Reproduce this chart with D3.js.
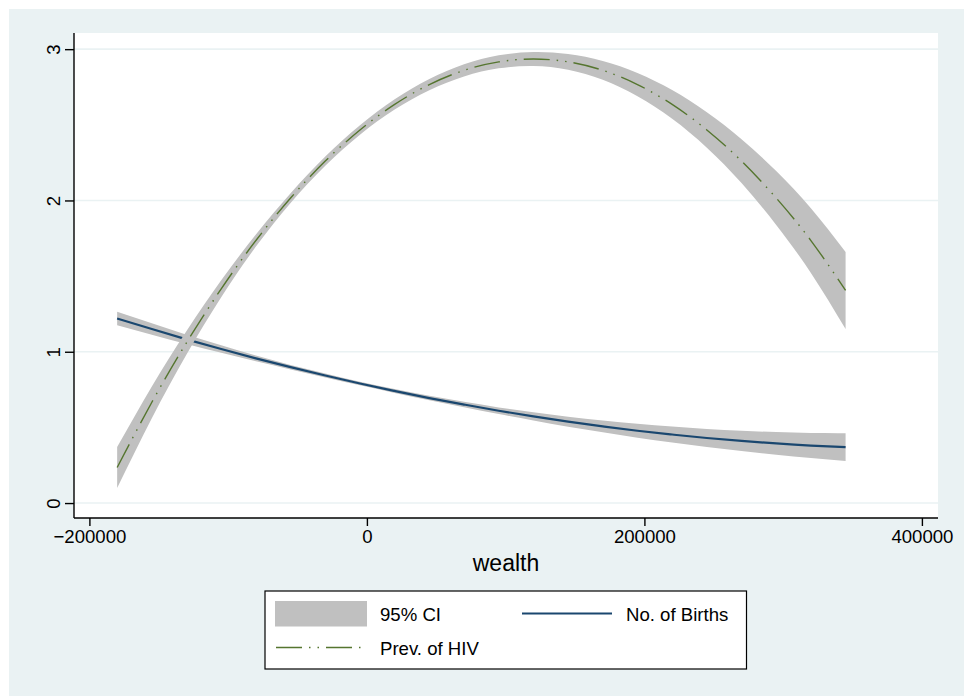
<!DOCTYPE html>
<html>
<head>
<meta charset="utf-8">
<script src="https://cdn.jsdelivr.net/npm/d3@7"></script>
<style>
  html, body { margin: 0; padding: 0; background: #ffffff; }
  svg { display: block; font-family: "Liberation Sans", Arial, Helvetica, sans-serif; }
</style>
</head>
<body>
<svg id="chart" width="964" height="696"></svg>
<script>
// Fitted values and 95% confidence bounds over household wealth
const wealth = [-180000, -155000, -130000, -105000, -80000, -55000, -30000, -5000,
  20000, 45000, 70000, 95000, 120000, 145000, 170000, 195000, 220000, 245000,
  270000, 295000, 320000, 345000];

const birthsFit = [1.220, 1.150, 1.082, 1.018, 0.956, 0.898, 0.843, 0.790, 0.741, 0.694,
  0.651, 0.610, 0.573, 0.538, 0.507, 0.478, 0.453, 0.430, 0.411, 0.394, 0.380, 0.370];
const birthsLo = [1.175, 1.112, 1.051, 0.993, 0.937, 0.883, 0.830, 0.778, 0.728, 0.679,
  0.633, 0.588, 0.546, 0.505, 0.468, 0.432, 0.400, 0.370, 0.344, 0.319, 0.297, 0.278];
const birthsHi = [1.265, 1.188, 1.113, 1.043, 0.975, 0.913, 0.856, 0.802, 0.754, 0.709,
  0.669, 0.632, 0.600, 0.571, 0.546, 0.524, 0.506, 0.490, 0.478, 0.469, 0.463, 0.462];

const hivFit = [0.235, 0.666, 1.060, 1.416, 1.735, 2.016, 2.260, 2.466, 2.635, 2.766,
  2.860, 2.916, 2.935, 2.916, 2.860, 2.766, 2.635, 2.466, 2.260, 2.016, 1.735, 1.405];
const hivLo = [0.100, 0.561, 0.982, 1.360, 1.695, 1.984, 2.230, 2.435, 2.601, 2.729,
  2.820, 2.873, 2.889, 2.864, 2.798, 2.689, 2.540, 2.349, 2.115, 1.838, 1.521, 1.150];
const hivHi = [0.370, 0.771, 1.138, 1.472, 1.775, 2.048, 2.290, 2.497, 2.669, 2.803,
  2.900, 2.959, 2.981, 2.968, 2.922, 2.843, 2.730, 2.583, 2.405, 2.194, 1.949, 1.660];

const xTicks = [-200000, 0, 200000, 400000];
const yTicks = [0, 1, 2, 3];
const legendLabels = ["95% CI", "No. of Births", "Prev. of HIV"];
const xTitle = "wealth";

const colors = {
  page: "#EAF2F3",
  band: "#C0C0C0",
  births: "#1A476F",
  hiv: "#55752F"
};

const W = 964, H = 696;
const plot = { left: 74, right: 938, top: 33, bottom: 518 };

const svg = d3.select("#chart");

// graph region
svg.append("rect").attr("x", 9).attr("y", 9).attr("width", W - 9).attr("height", H - 9)
  .attr("fill", colors.page);
svg.append("rect").attr("x", plot.left).attr("y", plot.top)
  .attr("width", plot.right - plot.left).attr("height", plot.bottom - plot.top)
  .attr("fill", "#ffffff");

const x = d3.scaleLinear().domain([-211100, 411600]).range([plot.left, plot.right]);
const y = d3.scaleLinear().domain([-0.0988, 3.1068]).range([plot.bottom, plot.top]);

// horizontal grid
svg.append("g").selectAll("line").data(yTicks).join("line")
  .attr("x1", plot.left).attr("x2", plot.right)
  .attr("y1", d => y(d)).attr("y2", d => y(d))
  .attr("stroke", colors.page).attr("stroke-width", 1.6);

const idx = d3.range(wealth.length);
const area = (lo, hi) => d3.area()
  .x(i => x(wealth[i])).y0(i => y(lo[i])).y1(i => y(hi[i]))
  .curve(d3.curveNatural)(idx);
const line = (v) => d3.line()
  .x(i => x(wealth[i])).y(i => y(v[i]))
  .curve(d3.curveNatural)(idx);

const clip = svg.append("clipPath").attr("id", "plotclip").append("rect")
  .attr("x", plot.left).attr("y", plot.top)
  .attr("width", plot.right - plot.left).attr("height", plot.bottom - plot.top);

const g = svg.append("g").attr("clip-path", "url(#plotclip)");

const hivDash = "26,7,1.5,7,1.5,7";

g.append("path").attr("d", area(birthsLo, birthsHi)).attr("fill", colors.band);
g.append("path").attr("d", line(birthsFit)).attr("fill", "none")
  .attr("stroke", colors.births).attr("stroke-width", 2.2);
g.append("path").attr("d", area(hivLo, hivHi)).attr("fill", colors.band);
g.append("path").attr("d", line(hivFit)).attr("fill", "none")
  .attr("stroke", colors.hiv).attr("stroke-width", 1.4)
  .attr("stroke-dasharray", hivDash);

// axes
const xAxis = d3.axisBottom(x).tickValues(xTicks).tickSize(8).tickPadding(4)
  .tickFormat(d => d < 0 ? "\u2212" + Math.abs(d) : String(d));
const gx = svg.append("g").attr("transform", `translate(0,${plot.bottom})`).call(xAxis);
gx.select(".domain").attr("d", `M${plot.left},0H${plot.right}`)
  .attr("stroke", "#000").attr("stroke-width", 1.4);
gx.selectAll(".tick line").attr("stroke", "#000").attr("stroke-width", 1.4);
gx.selectAll(".tick text").attr("font-size", 18.6).attr("fill", "#000")
  .attr("font-family", "Liberation Sans, Arial, sans-serif")
  .attr("dy", "0.71em").attr("y", 12);

const yAxis = d3.axisLeft(y).tickValues(yTicks).tickSize(9).tickPadding(4)
  .tickFormat(d3.format("d"));
const gy = svg.append("g").attr("transform", `translate(${plot.left},0)`).call(yAxis);
gy.select(".domain").attr("d", `M0,${plot.top}V${plot.bottom}`)
  .attr("stroke", "#000").attr("stroke-width", 1.4);
gy.selectAll(".tick line").attr("stroke", "#000").attr("stroke-width", 1.4);
gy.selectAll(".tick text")
  .attr("font-size", 18.6).attr("fill", "#000")
  .attr("font-family", "Liberation Sans, Arial, sans-serif")
  .attr("x", null).attr("dy", null)
  .attr("text-anchor", "middle")
  .attr("transform", "translate(-21,0) rotate(-90)")
  .attr("y", 0).attr("dy", "0.35em");

// axis title
svg.append("text").attr("x", (x(-211100) + x(411600)) / 2 + 0).attr("y", 571)
  .attr("text-anchor", "middle").attr("font-size", 23).attr("fill", "#000")
  .text(xTitle);

// legend
const lg = svg.append("g");
lg.append("rect").attr("x", 265).attr("y", 591).attr("width", 481.5).attr("height", 78)
  .attr("fill", "#fff").attr("stroke", "#000").attr("stroke-width", 1.2);
lg.append("rect").attr("x", 275).attr("y", 601).attr("width", 92).attr("height", 25.5)
  .attr("fill", colors.band);
lg.append("text").attr("x", 380).attr("y", 621).attr("font-size", 18.6).attr("fill", "#000")
  .text(legendLabels[0]);
lg.append("line").attr("x1", 522).attr("x2", 612).attr("y1", 613.5).attr("y2", 613.5)
  .attr("stroke", colors.births).attr("stroke-width", 2.2);
lg.append("text").attr("x", 626).attr("y", 621).attr("font-size", 18.6).attr("fill", "#000")
  .text(legendLabels[1]);
lg.append("line").attr("x1", 276).attr("x2", 361).attr("y1", 647.5).attr("y2", 647.5)
  .attr("stroke", colors.hiv).attr("stroke-width", 1.4)
  .attr("stroke-dasharray", hivDash);
lg.append("text").attr("x", 380).attr("y", 654.5).attr("font-size", 18.6).attr("fill", "#000")
  .text(legendLabels[2]);
</script>
</body>
</html>
